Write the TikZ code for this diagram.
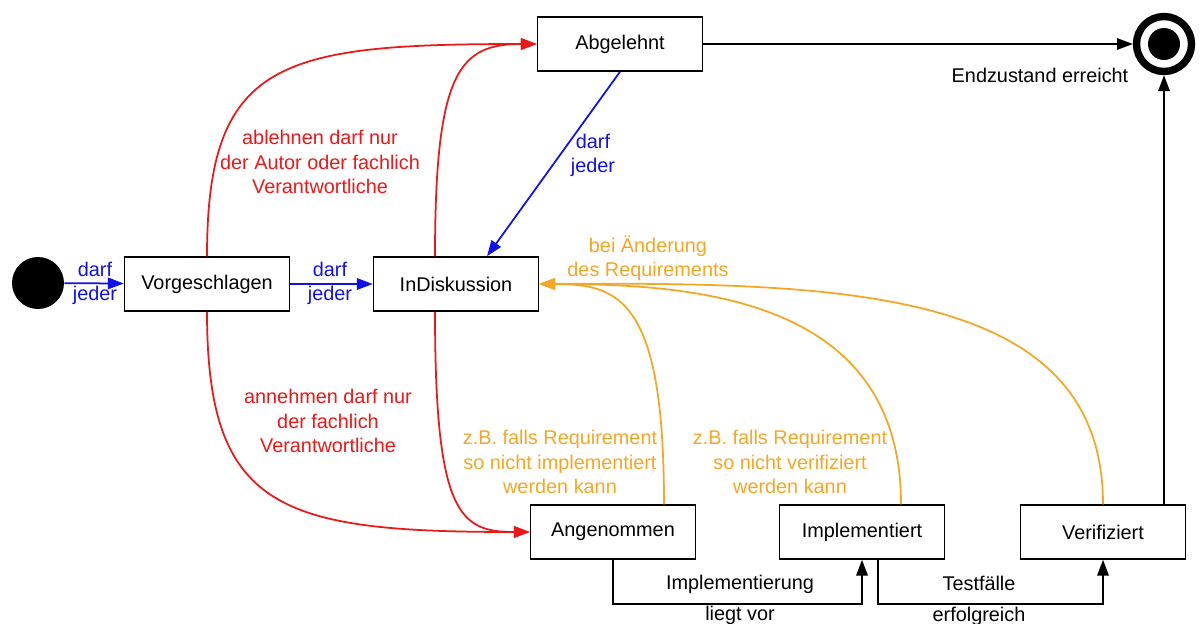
\documentclass[tikz,border=0pt]{standalone}
\usepackage{fontspec}
\setmainfont{Liberation Sans}
\usetikzlibrary{arrows.meta,calc}
\definecolor{rejred}{RGB}{236,24,24}
\definecolor{reqorange}{RGB}{246,166,36}
\definecolor{anyblue}{RGB}{16,16,236}

\begin{document}
\begin{tikzpicture}[x=0.02cm,y=-0.02cm,
    font=\fontsize{11.3}{13.8}\selectfont,
    state/.style={draw,line width=0.85pt,minimum width=3.3cm,minimum height=1.08cm,inner sep=0pt},
    flow/.style={line width=1pt,-{Triangle[length=9pt,width=6.5pt]}},
    note/.style={align=center,inner sep=0pt}]
  \useasboundingbox (0,0) rectangle (1203,623);
  % Zustaende
  \node[circle,fill,minimum size=1.04cm,inner sep=0pt] (start) at (38,283) {};
  \node[state] (vorg) at (207,284) {Vorgeschlagen};
  \node[state] (indisk) at (456,284) {InDiskussion};
  \node[state] (abg) at (620,44) {Abgelehnt};
  \node[state] (ang) at (613,532) {Angenommen};
  \node[state] (impl) at (862,532) {Implementiert};
  \node[state] (ver) at (1103,532) {Verifiziert};
  \node[circle,draw,line width=4.2pt,minimum size=1.1cm,inner sep=0pt] (endst) at (1164,44) {};
  \fill (endst.center) circle (0.32cm);
  \node (endtxt) at (1040,75) {Endzustand erreicht};

  % Uebergaenge
  \draw[flow,anyblue] (start) -- (vorg);
  \draw[flow,anyblue] (vorg) -- (indisk);
  \draw[flow,anyblue] (abg.south) -- ($(indisk.north)+(31,0)$);
  \draw[flow] (abg) -- (endst);
  \draw[flow] (endst.south |- ver.north) -- (endst.south);

  \draw[flow,rejred] (vorg.north) .. controls (207,60) and (280,44) .. (abg.west);
  \draw[flow,rejred] ($(indisk.north)+(-21,0)$) .. controls (435,70) and (460,44) .. (abg.west);
  \draw[flow,rejred] (vorg.south) .. controls (207,510) and (280,532) .. (ang.west);
  \draw[flow,rejred] ($(indisk.south)+(-21,0)$) .. controls (435,515) and (460,532) .. (ang.west);

  \draw[flow,reqorange] ($(ang.north)+(51,0)$) .. controls (664,300) and (620,284) .. (indisk.east);
  \draw[flow,reqorange] ($(impl.north)+(39,0)$) .. controls (901,300) and (700,284) .. (indisk.east);
  \draw[flow,reqorange] (ver.north) .. controls (1103,290) and (850,282) .. (indisk.east);

  \draw[flow] (ang.south) -- ++(0,44) -| (impl.south);
  \draw[flow] ($(impl.south)+(16,0)$) -- ++(0,44) -| (ver.south);

  % Beschriftungen
  \node[note,anyblue] (lblstart) at (95,283) {darf\\jeder};
  \node[note,anyblue] (lblvorg) at (330,283) {darf\\jeder};
  \node[note,anyblue] (lblabg) at (593,155) {darf\\jeder};
  \node[note,rejred] (lblrej) at (320,162) {ablehnen darf nur\\der Autor oder fachlich\\Verantwortliche};
  \node[note,rejred] (lblacc) at (328,421) {annehmen darf nur\\der fachlich\\Verantwortliche};
  \node[note,reqorange] (lblchg) at (648,258) {bei Änderung\\des Requirements};
  \node[note,reqorange] (lblimp) at (560,462) {z.B. falls Requirement\\so nicht implementiert\\werden kann};
  \node[note,reqorange] (lblver) at (790,462) {z.B. falls Requirement\\so nicht verifiziert\\werden kann};
  \node[note] (lblimpl) at (740,600) {Implementierung\\[3.5pt]liegt vor};
  \node[note] (lbltest) at (979,601) {Testfälle\\[3.5pt]erfolgreich};
\end{tikzpicture}
\end{document}
